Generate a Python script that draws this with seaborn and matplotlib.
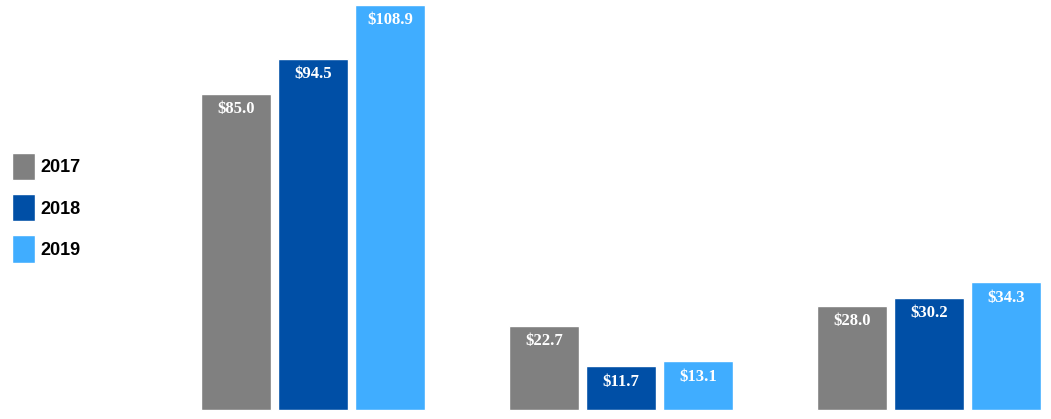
import numpy as np
import pandas as pd
import matplotlib.pyplot as plt
import seaborn as sns

groups = ["Group A", "Group B", "Group C"]
years = ["2017", "2018", "2019"]
values_2017 = [85.0, 22.7, 28.0]
values_2018 = [94.5, 11.7, 30.2]
values_2019 = [108.9, 13.1, 34.3]
colors = ["#808080", "#004FA6", "#40ADFF"]

df = pd.DataFrame({
    "group": groups * 3,
    "year": [y for y in years for _ in groups],
    "value": values_2017 + values_2018 + values_2019,
})

sns.set_style("white")
fig = plt.figure(figsize=(10.51, 4.19), dpi=100)
ax = fig.add_axes([0, 0, 1, 1])

sns.barplot(data=df, x="group", y="value", hue="year", hue_order=years,
            order=groups, palette=colors, width=0.75, gap=0.09,
            saturation=1, ax=ax, legend=True)

# place group centres like the reference
ax.set_xlim(-313 / 308, (1051 - 313) / 308)
ax.set_ylim(-9 / 3.719, 410 / 3.719)
ax.axis("off")

for cont in ax.containers:
    for bar in cont:
        h = bar.get_height()
        ax.annotate(f"${h:.1f}", xy=(bar.get_x() + bar.get_width() / 2, h),
                    xytext=(0, -11), textcoords="offset points",
                    ha="center", va="center", color="white",
                    fontsize=12, fontweight="bold", family="Liberation Serif")

handles, labels = ax.get_legend_handles_labels()
ax.legend(handles, labels, loc="center left",
          bbox_to_anchor=(12 / 1051, 0.504), bbox_transform=fig.transFigure,
          frameon=False, borderaxespad=0, borderpad=0,
          handlelength=1.27, handleheight=1.93, labelspacing=0.78,
          handletextpad=0.3, labelcolor="black",
          prop={"family": "Liberation Sans", "weight": "bold", "size": 13})

fig.savefig("out.png", dpi=100)
